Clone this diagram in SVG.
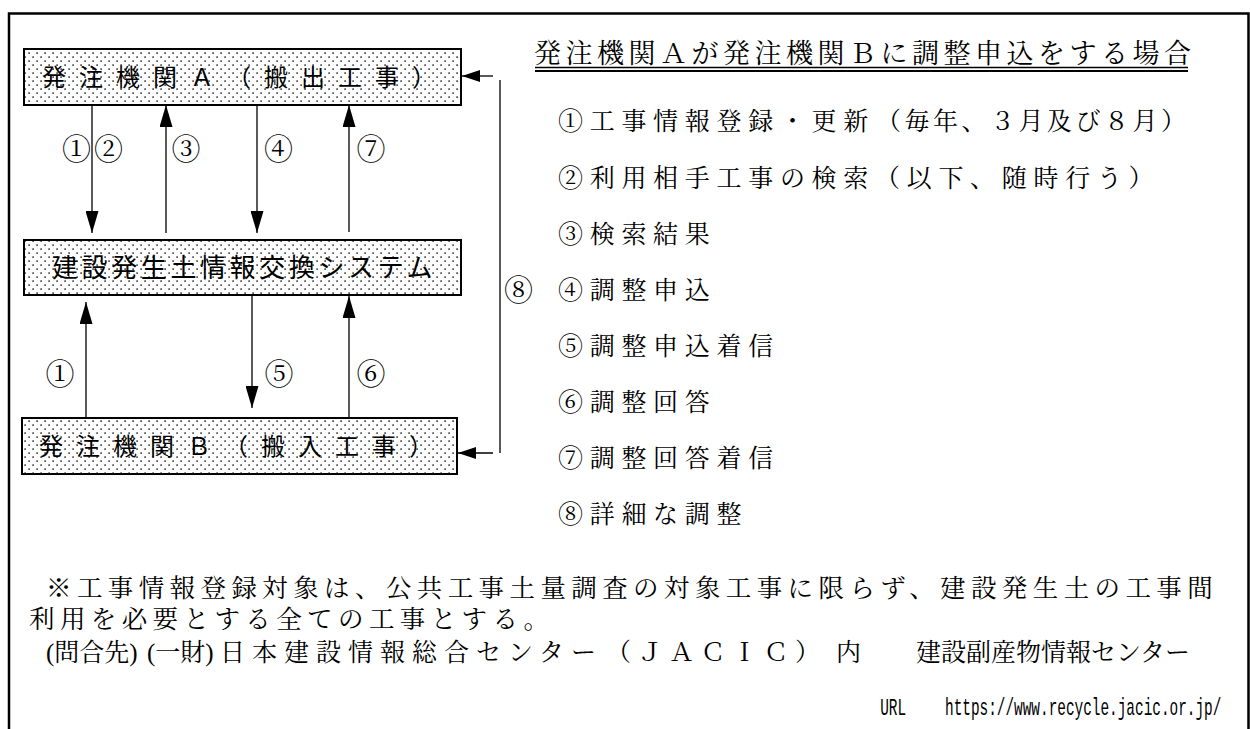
<svg xmlns="http://www.w3.org/2000/svg" width="1250" height="729" viewBox="0 0 1250 729">
<style>
.frame{fill:none;stroke:#000;stroke-width:2.5}
.box{fill:url(#dots);stroke:#000;stroke-width:2}
.g{font-family:"Noto Sans CJK JP","Noto Sans CJK SC",sans-serif;fill:#000}
.m{font-family:"Liberation Serif","Noto Serif CJK JP","Noto Sans CJK JP",serif;fill:#000}
.c{stroke:#000;stroke-width:1.3;fill:none}
.lbl{font-size:29px;text-anchor:middle}
.item{font-size:25px;letter-spacing:6.7px}
.note{font-size:25.5px;letter-spacing:5.4px}
.url{font-family:"Liberation Mono",monospace;font-size:24px}
</style>
<defs>
<pattern id="dots" width="8" height="8" patternUnits="userSpaceOnUse">
<rect width="8" height="8" fill="#fff"/>
<rect x="0.4" y="0.4" width="1.4" height="1.4" fill="#000"/>
<rect x="4.4" y="4.4" width="1.4" height="1.4" fill="#000"/>
</pattern>
<marker id="ah" markerUnits="userSpaceOnUse" markerWidth="22" markerHeight="13" refX="22" refY="6.5" orient="auto"><path d="M0,0 L22,6.5 L0,13 z" fill="#000"/></marker>
<marker id="ahs" markerUnits="userSpaceOnUse" markerWidth="18" markerHeight="12" refX="18" refY="6" orient="auto"><path d="M0,0 L18,6 L0,12 z" fill="#000"/></marker>
</defs>
<path class="frame" d="M9,729 V13.5 H1248.5 V729"/>
<g id="nodeA">
<rect class="box" x="24" y="49" width="437" height="56"/>
<text class="g" x="42" y="86" font-size="24" letter-spacing="13">発注機関Ａ（搬出工事）</text>
</g>
<g id="nodeSys">
<rect class="box" x="24" y="240" width="437" height="55"/>
<text class="g" x="52" y="277" font-size="26" letter-spacing="3.6">建設発生土情報交換システム</text>
</g>
<g id="nodeB">
<rect class="box" x="22" y="418" width="435" height="56"/>
<text class="g" x="39" y="455" font-size="24" letter-spacing="13">発注機関Ｂ（搬入工事）</text>
</g>
<g id="connectors">
<line class="c" x1="92" y1="105" x2="92" y2="233" marker-end="url(#ah)"/>
<line class="c" x1="166" y1="233" x2="166" y2="105" marker-end="url(#ah)"/>
<line class="c" x1="257" y1="105" x2="257" y2="233" marker-end="url(#ah)"/>
<line class="c" x1="349" y1="232" x2="349" y2="105" marker-end="url(#ah)"/>
<line class="c" x1="86" y1="418" x2="86" y2="302" marker-end="url(#ah)"/>
<line class="c" x1="252" y1="295" x2="252" y2="408" marker-end="url(#ah)"/>
<line class="c" x1="349" y1="418" x2="349" y2="296" marker-end="url(#ah)"/>
<line class="c" x1="493" y1="76" x2="462" y2="76" marker-end="url(#ahs)"/>
<line class="c" x1="500" y1="80" x2="500" y2="453"/>
<line class="c" x1="493" y1="453" x2="458" y2="453" marker-end="url(#ahs)"/>
<g class="m lbl">
<text x="76.5" y="160">①</text><text x="108.5" y="160">②</text>
<text x="186" y="160">③</text>
<text x="278.5" y="160">④</text>
<text x="371" y="160">⑦</text>
<text x="60" y="385">①</text>
<text x="279" y="385">⑤</text>
<text x="371" y="385">⑥</text>
<text x="518.5" y="301">⑧</text>
</g>
</g>
<g id="legend">
<text class="m" x="534" y="63" font-size="27" letter-spacing="4.5">発注機関Ａが発注機関Ｂに調整申込をする場合</text>
<line x1="535" y1="67.5" x2="1188" y2="67.5" stroke="#000" stroke-width="1.5"/>
<line x1="535" y1="71" x2="1188" y2="71" stroke="#000" stroke-width="1.8"/>
<text class="m item" x="558" y="130">①工事情報登録・更新<tspan x="876" letter-spacing="3.5">（毎年、３月及び８月）</tspan></text>
<text class="m item" x="558" y="187">②利用相手工事の検索（以下、随時行う）</text>
<text class="m item" x="558" y="243">③検索結果</text>
<text class="m item" x="558" y="299">④調整申込</text>
<text class="m item" x="558" y="355">⑤調整申込着信</text>
<text class="m item" x="558" y="411">⑥調整回答</text>
<text class="m item" x="558" y="467">⑦調整回答着信</text>
<text class="m item" x="558" y="523">⑧詳細な調整</text>
</g>
<g id="notes">
<text class="m note" x="46" y="597">※工事情報登録対象は、公共工事土量調査の対象工事に限らず、建設発生土の工事間</text>
<text class="m note" x="29" y="628">利用を必要とする全ての工事とする。</text>
<text class="m" y="661" font-size="25"><tspan x="46">(問合先)</tspan><tspan x="147">(一財)</tspan><tspan x="220" letter-spacing="7">日本建設情報総合センター</tspan><tspan x="606" letter-spacing="6.5">（ＪＡＣＩＣ）</tspan><tspan x="836">内</tspan><tspan x="916">建設副産物情報センター</tspan></text>
<g transform="translate(0,715) scale(0.6,1)">
<text class="url" x="1467" y="0">URL</text>
<text class="url" x="1575" y="0">https://www.recycle.jacic.or.jp/</text>
</g>
</g>
</svg>
